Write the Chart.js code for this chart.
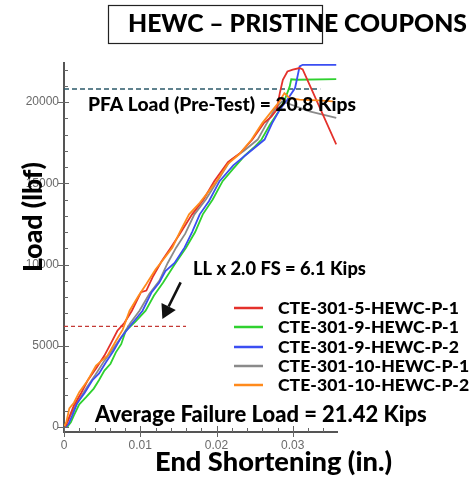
<!DOCTYPE html>
<html>
<head>
<meta charset="utf-8">
<script src="https://cdn.jsdelivr.net/npm/chart.js@4.4.0/dist/chart.umd.min.js"></script>
<style>
  body { margin: 0; background: #fff; }
  #wrap { width: 469px; height: 480px; position: relative; }
</style>
</head>
<body>
<div id="wrap"><canvas id="chart" width="469" height="480"></canvas></div>
<script>
// axis ticks
const xTicks = [0, 0.01, 0.02, 0.03];
const yTicks = [0, 5000, 10000, 15000, 20000];
const xMinor = [0.002, 0.004, 0.006, 0.008, 0.012, 0.014, 0.016, 0.018, 0.022, 0.024, 0.026, 0.028, 0.032, 0.034];
const yMinor = [1000, 2000, 3000, 4000, 6000, 7000, 8000, 9000, 11000, 12000, 13000, 14000, 16000, 17000, 18000, 19000, 21000, 22000];

const seriesNames = ["CTE-301-5-HEWC-P-1", "CTE-301-9-HEWC-P-1", "CTE-301-9-HEWC-P-2", "CTE-301-10-HEWC-P-1", "CTE-301-10-HEWC-P-2"];
const seriesColors = ["#e4312b", "#2fd12f", "#3b4ef2", "#8a8a8a", "#ff8a1c"];

// end shortening (in.) / load (lbf)
const redX = [0, 0.0003, 0.0013, 0.0022, 0.0031, 0.0042, 0.0053, 0.0062, 0.007, 0.0079, 0.0089, 0.0101, 0.0108, 0.0117, 0.0128, 0.014, 0.0152, 0.0168, 0.0183, 0.0197, 0.0215, 0.0232, 0.0247, 0.0262, 0.0272, 0.0279, 0.0283, 0.0287, 0.0293, 0.03, 0.0309, 0.0313, 0.0357];
const redY = [0, 150, 1330, 2050, 2870, 3600, 4400, 5200, 5930, 6400, 7160, 8300, 8400, 9300, 10200, 11040, 11900, 13090, 14000, 15130, 16300, 16900, 17690, 18700, 19100, 19530, 20550, 21370, 21880, 21990, 22090, 22010, 17390];

const greenX = [0.0004, 0.0009, 0.0013, 0.002, 0.0029, 0.0039, 0.0046, 0.0053, 0.0061, 0.0068, 0.0075, 0.0081, 0.0094, 0.0107, 0.0118, 0.013, 0.0145, 0.016, 0.0172, 0.0182, 0.0195, 0.0208, 0.0222, 0.0237, 0.0249, 0.0259, 0.027, 0.0283, 0.029, 0.0296, 0.0298, 0.0305, 0.0357];
const greenY = [0, 300, 720, 1400, 1840, 2370, 2900, 3480, 3900, 4600, 5100, 5930, 6500, 7160, 8100, 8900, 10000, 11040, 12000, 13090, 14000, 15130, 15900, 16700, 17200, 17690, 18600, 19530, 20200, 20960, 21400, 21370, 21410];

const blueX = [0.0002, 0.0006, 0.0011, 0.0017, 0.0027, 0.0037, 0.0046, 0.0055, 0.0065, 0.0075, 0.0088, 0.0103, 0.0115, 0.0125, 0.0133, 0.0145, 0.0158, 0.0168, 0.0178, 0.019, 0.0204, 0.0222, 0.024, 0.0263, 0.0273, 0.0283, 0.0293, 0.0303, 0.0309, 0.0313, 0.0357];
const blueY = [0, 200, 720, 1450, 2100, 2870, 3300, 3990, 4700, 5520, 6300, 7160, 8300, 8900, 9600, 10100, 11040, 12000, 13090, 13900, 15130, 16100, 16800, 17690, 18700, 19530, 20150, 20860, 22190, 22290, 22290];

const grayX = [0, 0.0004, 0.0015, 0.003, 0.0041, 0.0053, 0.0064, 0.0075, 0.0087, 0.0099, 0.0112, 0.0125, 0.0136, 0.0147, 0.0159, 0.0171, 0.0186, 0.0201, 0.0218, 0.0236, 0.0254, 0.0266, 0.0276, 0.0286, 0.0292, 0.0322, 0.0357];
const grayY = [0, 310, 1300, 2450, 3200, 4090, 4800, 5520, 6400, 7160, 8200, 9000, 10100, 11040, 11900, 13090, 14000, 15130, 16400, 17000, 17690, 18700, 19530, 20040, 19940, 19430, 19020];

const orangeX = [0, 0.0003, 0.0007, 0.0013, 0.002, 0.0031, 0.0042, 0.0057, 0.0068, 0.0077, 0.0086, 0.0098, 0.0108, 0.012, 0.013, 0.0142, 0.0153, 0.0164, 0.0178, 0.02, 0.0215, 0.023, 0.0246, 0.026, 0.0274, 0.0282, 0.0289, 0.0296, 0.0309, 0.0333, 0.0353];
const orangeY = [0, 300, 1150, 1500, 2150, 2870, 3790, 4400, 5300, 6000, 7160, 8100, 8800, 9700, 10300, 11040, 12100, 13090, 13800, 15130, 16200, 16800, 17690, 18700, 19530, 20000, 20550, 20240, 20150, 20100, 20040];

// reference levels
const pfaLoad = 20800;
const pfaEndX = 0.0336;
const llLoad = 6200;
const llEndX = 0.016;
const arrowFrom = [0.0153, 8900];
const arrowTo = [0.0129, 6650];

const allX = [redX, greenX, blueX, grayX, orangeX];
const allY = [redY, greenY, blueY, grayY, orangeY];

const tickFont = { family: '"Liberation Sans Narrow", "Liberation Sans", sans-serif', size: 12 };
const boldFamily = 'Lato, "Open Sans", sans-serif';
const boldWeight = "900";

const pts = (xs, ys) => xs.map((x, i) => ({ x: x, y: ys[i] }));

const datasets = [];
// orange drawn on top, so it goes first
[4, 0, 2, 1, 3].forEach((i) => {
    datasets.push({
        label: seriesNames[i],
        data: pts(allX[i], allY[i]),
        borderColor: seriesColors[i],
        borderWidth: 1.8,
        pointRadius: 0,
        tension: 0,
        fill: false,
    });
});
datasets.push({
    label: "PFA",
    data: [{ x: 0, y: pfaLoad }, { x: pfaEndX, y: pfaLoad }],
    borderColor: "#2c5a6a",
    borderWidth: 1.3,
    borderDash: [5, 3],
    pointRadius: 0,
});
datasets.push({
    label: "LL",
    data: [{ x: 0, y: llLoad }, { x: llEndX, y: llLoad }],
    borderColor: "#c43a35",
    borderWidth: 1.2,
    borderDash: [4, 3],
    pointRadius: 0,
});

function fitSize(ctx, text, width) {
    ctx.font = boldWeight + " 20px " + boldFamily;
    return 20 * width / ctx.measureText(text).width;
}

function fitText(ctx, text, x, y, width) {
    const size = fitSize(ctx, text, width);
    ctx.font = boldWeight + " " + size.toFixed(2) + "px " + boldFamily;
    ctx.fillText(text, x, y);
}

const extras = {
    id: "extras",
    afterDraw(chart) {
        const ctx = chart.ctx;
        const xs = chart.scales.x;
        const ys = chart.scales.y;
        const area = chart.chartArea;
        ctx.save();

        // ticks
        ctx.strokeStyle = "#666";
        ctx.lineWidth = 1;
        ctx.beginPath();
        yTicks.forEach((v) => {
            const py = Math.round(ys.getPixelForValue(v)) + 0.5;
            ctx.moveTo(area.left - 6, py);
            ctx.lineTo(area.left + 5, py);
        });
        yMinor.forEach((v) => {
            const py = Math.round(ys.getPixelForValue(v)) + 0.5;
            ctx.moveTo(area.left, py);
            ctx.lineTo(area.left + 4, py);
        });
        xTicks.forEach((v) => {
            const px = Math.round(xs.getPixelForValue(v)) + 0.5;
            ctx.moveTo(px, area.bottom + 5);
            ctx.lineTo(px, area.bottom - 6);
        });
        xMinor.forEach((v) => {
            const px = Math.round(xs.getPixelForValue(v)) + 0.5;
            ctx.moveTo(px, area.bottom);
            ctx.lineTo(px, area.bottom - 4);
        });
        ctx.stroke();

        ctx.fillStyle = "#000";
        ctx.textBaseline = "middle";
        ctx.textAlign = "left";

        // title box
        ctx.strokeStyle = "#222";
        ctx.lineWidth = 1.2;
        ctx.strokeRect(108.5, 5.5, 214, 38);
        fitText(ctx, "HEWC \u2013 PRISTINE COUPONS", 128, 24, 339);

        // annotations
        fitText(ctx, "PFA Load (Pre-Test) = 20.8 Kips", 88, 105, 268);
        fitText(ctx, "LL x 2.0 FS = 6.1 Kips", 193, 269, 173);
        fitText(ctx, "Average Failure Load = 21.42 Kips", 95, 415, 332);
        fitText(ctx, "End Shortening (in.)", 155, 462, 237);

        ctx.save();
        ctx.translate(33, 217);
        ctx.rotate(-Math.PI / 2);
        ctx.textAlign = "center";
        fitText(ctx, "Load (lbf)", 0, 0, 110);
        ctx.restore();

        // arrow
        const ax0 = xs.getPixelForValue(arrowFrom[0]), ay0 = ys.getPixelForValue(arrowFrom[1]);
        const ax1 = xs.getPixelForValue(arrowTo[0]), ay1 = ys.getPixelForValue(arrowTo[1]);
        const ang = Math.atan2(ay1 - ay0, ax1 - ax0);
        const head = 14;
        const bx = ax1 - head * Math.cos(ang), by = ay1 - head * Math.sin(ang);
        ctx.strokeStyle = "#111";
        ctx.lineWidth = 2.6;
        ctx.beginPath();
        ctx.moveTo(ax0, ay0);
        ctx.lineTo(bx, by);
        ctx.stroke();
        ctx.fillStyle = "#111";
        ctx.beginPath();
        ctx.moveTo(ax1, ay1);
        ctx.lineTo(bx + 8 * Math.sin(ang), by - 8 * Math.cos(ang));
        ctx.lineTo(bx - 8 * Math.sin(ang), by + 8 * Math.cos(ang));
        ctx.closePath();
        ctx.fill();

        // legend
        const rows = [308, 327, 347, 366, 385];
        const legSize = fitSize(ctx, seriesNames[0], 181);
        seriesNames.forEach((name, i) => {
            ctx.strokeStyle = seriesColors[i];
            ctx.lineWidth = 2.5;
            ctx.beginPath();
            ctx.moveTo(234, rows[i]);
            ctx.lineTo(263, rows[i]);
            ctx.stroke();
            ctx.fillStyle = "#000";
            ctx.font = boldWeight + " " + legSize.toFixed(2) + "px " + boldFamily;
            ctx.fillText(name, 278, rows[i]);
        });

        ctx.restore();
    }
};

new Chart(document.getElementById("chart"), {
    type: "line",
    data: { datasets: datasets },
    options: {
        responsive: false,
        animation: false,
        devicePixelRatio: 1,
        layout: { padding: { left: 0, top: 63, right: 132, bottom: 0 } },
        plugins: {
            legend: { display: false },
            tooltip: { enabled: false },
        },
        scales: {
            x: {
                type: "linear",
                min: 0,
                max: 0.0358,
                afterFit: (scale) => { scale.height = 48; },
                afterBuildTicks: (scale) => { scale.ticks = xTicks.map((v) => ({ value: v })); },
                grid: { display: true, drawOnChartArea: false, drawTicks: false },
                border: { display: true, color: "#555", width: 2 },
                ticks: {
                    padding: 6,
                    color: "#6a6a6a",
                    font: tickFont,
                    maxRotation: 0,
                    callback: (v) => (v === 0 ? "0" : v.toFixed(2)),
                },
            },
            y: {
                type: "linear",
                min: -300,
                max: 22400,
                afterFit: (scale) => { scale.width = 64; },
                afterBuildTicks: (scale) => { scale.ticks = yTicks.map((v) => ({ value: v })); },
                grid: { display: true, drawOnChartArea: false, drawTicks: false },
                border: { display: true, color: "#555", width: 2 },
                ticks: {
                    padding: 5,
                    color: "#6a6a6a",
                    font: tickFont,
                    callback: (v) => String(v),
                },
            },
        },
    },
    plugins: [extras],
});
</script>
</body>
</html>
